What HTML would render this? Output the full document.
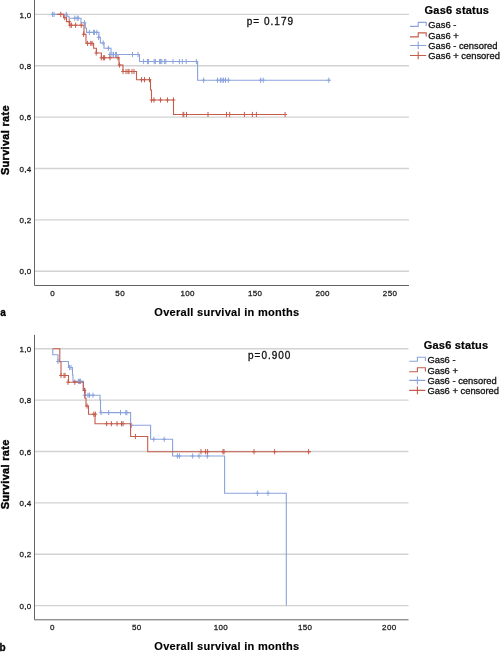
<!DOCTYPE html>
<html><head><meta charset="utf-8"><title>Kaplan-Meier survival curves</title>
<style>
html,body{margin:0;padding:0;background:#fff;}
body{width:500px;height:654px;overflow:hidden;}
svg{display:block;will-change:transform;}
text{font-family:"Liberation Sans",sans-serif;}
.tl{font-size:8px;letter-spacing:0.35px;fill:#1a1a1a;stroke:#1a1a1a;stroke-width:0.28px;}
.pv{font-size:10px;fill:#111;stroke:#111;stroke-width:0.3px;letter-spacing:1px;}
.at{font-size:11px;letter-spacing:0.29px;font-weight:bold;fill:#000;stroke:#000;stroke-width:0.15px;}
.lt{font-size:10px;font-weight:bold;fill:#000;stroke:#000;stroke-width:0.3px;}
.lg{font-size:11px;letter-spacing:0.2px;font-weight:bold;fill:#000;stroke:#000;stroke-width:0.2px;}
.li{font-size:9.4px;fill:#111;stroke:#111;stroke-width:0.3px;}
</style></head>
<body>
<svg width="500" height="654" viewBox="0 0 500 654">
<rect width="500" height="654" fill="#fff"/>
<line x1="34.5" x2="409" y1="14.40" y2="14.40" stroke="#d2d2d2" stroke-width="1.4"/>
<line x1="34.5" x2="409" y1="65.78" y2="65.78" stroke="#d2d2d2" stroke-width="1.4"/>
<line x1="34.5" x2="409" y1="117.16" y2="117.16" stroke="#d2d2d2" stroke-width="1.4"/>
<line x1="34.5" x2="409" y1="168.54" y2="168.54" stroke="#d2d2d2" stroke-width="1.4"/>
<line x1="34.5" x2="409" y1="219.92" y2="219.92" stroke="#d2d2d2" stroke-width="1.4"/>
<line x1="34.5" x2="409" y1="271.30" y2="271.30" stroke="#d2d2d2" stroke-width="1.4"/>
<text x="31.6" y="17.50" text-anchor="end" class="tl">1,0</text>
<text x="31.6" y="68.88" text-anchor="end" class="tl">0,8</text>
<text x="31.6" y="120.26" text-anchor="end" class="tl">0,6</text>
<text x="31.6" y="171.64" text-anchor="end" class="tl">0,4</text>
<text x="31.6" y="223.02" text-anchor="end" class="tl">0,2</text>
<text x="31.6" y="274.40" text-anchor="end" class="tl">0,0</text>
<text x="52.70" y="295.80" text-anchor="middle" class="tl">0</text>
<text x="120.17" y="295.80" text-anchor="middle" class="tl">50</text>
<text x="187.64" y="295.80" text-anchor="middle" class="tl">100</text>
<text x="255.11" y="295.80" text-anchor="middle" class="tl">150</text>
<text x="322.58" y="295.80" text-anchor="middle" class="tl">200</text>
<text x="390.05" y="295.80" text-anchor="middle" class="tl">250</text>
<path d="M51,14.4H67V16.3H69V18.2H81V22.8H85.3V28H86.5V32.4H99V37.4H100.4V43H104V48.2H111V54.5H139.5V61.5H197.6V80.2H330.5" stroke="#8aa3dc" stroke-width="1.1" fill="none"/>
<path d="M52.5,11.80V17.00M50.7,14.4H54.3M54,11.80V17.00M52.2,14.4H55.8M66.4,11.80V17.00M64.60000000000001,14.4H68.2" stroke="#8aa3dc" stroke-width="1.0" fill="none"/>
<path d="M74.8,15.60V20.80M73.0,18.2H76.6M77.2,15.60V20.80M75.4,18.2H79.0M78.2,15.60V20.80M76.4,18.2H80.0" stroke="#8aa3dc" stroke-width="1.0" fill="none"/>
<path d="M84.5,20.20V25.40M82.7,22.8H86.3" stroke="#8aa3dc" stroke-width="1.0" fill="none"/>
<path d="M89.4,29.80V35.00M87.60000000000001,32.4H91.2M93.6,29.80V35.00M91.8,32.4H95.39999999999999M94.4,29.80V35.00M92.60000000000001,32.4H96.2M96.8,29.80V35.00M95.0,32.4H98.6" stroke="#8aa3dc" stroke-width="1.0" fill="none"/>
<path d="M98.6,34.80V40.00M96.8,37.4H100.39999999999999" stroke="#8aa3dc" stroke-width="1.0" fill="none"/>
<path d="M103.2,40.40V45.60M101.4,43.0H105.0" stroke="#8aa3dc" stroke-width="1.0" fill="none"/>
<path d="M108.4,45.60V50.80M106.60000000000001,48.2H110.2" stroke="#8aa3dc" stroke-width="1.0" fill="none"/>
<path d="M109.8,51.90V57.10M108.0,54.5H111.6M112,51.90V57.10M110.2,54.5H113.8M113.5,51.90V57.10M111.7,54.5H115.3M115.5,51.90V57.10M113.7,54.5H117.3M116.4,51.90V57.10M114.60000000000001,54.5H118.2M132.5,51.90V57.10M130.7,54.5H134.3M138,51.90V57.10M136.2,54.5H139.8" stroke="#8aa3dc" stroke-width="1.0" fill="none"/>
<path d="M143.6,58.90V64.10M141.79999999999998,61.5H145.4M147.4,58.90V64.10M145.6,61.5H149.20000000000002M148.4,58.90V64.10M146.6,61.5H150.20000000000002M154.2,58.90V64.10M152.39999999999998,61.5H156.0M155.4,58.90V64.10M153.6,61.5H157.20000000000002M159.6,58.90V64.10M157.79999999999998,61.5H161.4M160.6,58.90V64.10M158.79999999999998,61.5H162.4M161.8,58.90V64.10M160.0,61.5H163.60000000000002M164.6,58.90V64.10M162.79999999999998,61.5H166.4M165.8,58.90V64.10M164.0,61.5H167.60000000000002M173,58.90V64.10M171.2,61.5H174.8M179.4,58.90V64.10M177.6,61.5H181.20000000000002M182.3,58.90V64.10M180.5,61.5H184.10000000000002M186.2,58.90V64.10M184.39999999999998,61.5H188.0M196.4,58.90V64.10M194.6,61.5H198.20000000000002" stroke="#8aa3dc" stroke-width="1.0" fill="none"/>
<path d="M203.6,77.60V82.80M201.79999999999998,80.2H205.4M217.5,77.60V82.80M215.7,80.2H219.3M220.4,77.60V82.80M218.6,80.2H222.20000000000002M222,77.60V82.80M220.2,80.2H223.8M223.6,77.60V82.80M221.79999999999998,80.2H225.4M225.5,77.60V82.80M223.7,80.2H227.3M228.4,77.60V82.80M226.6,80.2H230.20000000000002M260.6,77.60V82.80M258.8,80.2H262.40000000000003M263.2,77.60V82.80M261.4,80.2H265.0M328.8,77.60V82.80M327.0,80.2H330.6" stroke="#8aa3dc" stroke-width="1.0" fill="none"/>
<path d="M57,14.4H63.6V17.6H66.5V21.6H69.5V25.2H84V34.2H86V43.4H93.6V48.2H96.4V53H101.4V57.8H119V65H123V71.5H136.5V79.7H150.5V90H151.5V100H173.5V114.5H287" stroke="#c55c4c" stroke-width="1.1" fill="none"/>
<path d="M60.8,11.80V17.00M59.0,14.4H62.599999999999994" stroke="#c55c4c" stroke-width="1.0" fill="none"/>
<path d="M64.8,15.00V20.20M63.0,17.6H66.6" stroke="#c55c4c" stroke-width="1.0" fill="none"/>
<path d="M69.2,19.00V24.20M67.4,21.6H71.0" stroke="#c55c4c" stroke-width="1.0" fill="none"/>
<path d="M70.0,22.60V27.80M68.2,25.2H71.8M71.4,22.60V27.80M69.60000000000001,25.2H73.2M75.6,22.60V27.80M73.8,25.2H77.39999999999999M81.2,22.60V27.80M79.4,25.2H83.0" stroke="#c55c4c" stroke-width="1.0" fill="none"/>
<path d="M83.6,31.60V36.80M81.8,34.2H85.39999999999999" stroke="#c55c4c" stroke-width="1.0" fill="none"/>
<path d="M87.6,40.80V46.00M85.8,43.4H89.39999999999999M90.8,40.80V46.00M89.0,43.4H92.6M92,40.80V46.00M90.2,43.4H93.8" stroke="#c55c4c" stroke-width="1.0" fill="none"/>
<path d="M96.2,50.40V55.60M94.4,53.0H98.0" stroke="#c55c4c" stroke-width="1.0" fill="none"/>
<path d="M101.3,55.20V60.40M99.5,57.8H103.1M103.4,55.20V60.40M101.60000000000001,57.8H105.2M104.6,55.20V60.40M102.8,57.8H106.39999999999999M110,55.20V60.40M108.2,57.8H111.8M118,55.20V60.40M116.2,57.8H119.8" stroke="#c55c4c" stroke-width="1.0" fill="none"/>
<path d="M119.5,62.40V67.60M117.7,65.0H121.3" stroke="#c55c4c" stroke-width="1.0" fill="none"/>
<path d="M123,68.90V74.10M121.2,71.5H124.8M126,68.90V74.10M124.2,71.5H127.8M128,68.90V74.10M126.2,71.5H129.8M129,68.90V74.10M127.2,71.5H130.8M132,68.90V74.10M130.2,71.5H133.8M134,68.90V74.10M132.2,71.5H135.8" stroke="#c55c4c" stroke-width="1.0" fill="none"/>
<path d="M141.5,77.10V82.30M139.7,79.7H143.3M144.5,77.10V82.30M142.7,79.7H146.3M149.5,77.10V82.30M147.7,79.7H151.3" stroke="#c55c4c" stroke-width="1.0" fill="none"/>
<path d="M151.5,97.40V102.60M149.7,100.0H153.3M154,97.40V102.60M152.2,100.0H155.8M160.5,97.40V102.60M158.7,100.0H162.3M167.5,97.40V102.60M165.7,100.0H169.3M173.5,97.40V102.60M171.7,100.0H175.3" stroke="#c55c4c" stroke-width="1.0" fill="none"/>
<path d="M183,111.90V117.10M181.2,114.5H184.8M183.8,111.90V117.10M182.0,114.5H185.60000000000002M186.5,111.90V117.10M184.7,114.5H188.3M208,111.90V117.10M206.2,114.5H209.8M226.5,111.90V117.10M224.7,114.5H228.3M229.7,111.90V117.10M227.89999999999998,114.5H231.5M244.4,111.90V117.10M242.6,114.5H246.20000000000002M252.4,111.90V117.10M250.6,114.5H254.20000000000002M256.4,111.90V117.10M254.59999999999997,114.5H258.2M285.1,111.90V117.10M283.3,114.5H286.90000000000003" stroke="#c55c4c" stroke-width="1.0" fill="none"/>
<path d="M34.5,0V285.50H409" stroke="#646464" stroke-width="1" fill="none"/>
<text x="246.8" y="24.80" class="pv">p= 0.179</text>
<text x="154.3" y="315.60" class="at">Overall survival in months</text>
<text transform="translate(9.0,140.10) rotate(-90)" text-anchor="middle" class="at" style="stroke:#000;stroke-width:0.4px;font-size:11px;letter-spacing:0.3px">Survival rate</text>
<text x="0.3" y="316.00" class="lt">a</text>
<text x="424.60" y="13.90" class="lg">Gas6 status</text>
<path d="M410.00,26.40H418.20V22.40H426.20V26.00" stroke="#8aa3dc" stroke-width="1.1" fill="none"/>
<text x="428.20" y="28.30" class="li">Gas6 -</text>
<path d="M410.00,36.90H418.20V32.90H426.20V36.50" stroke="#c55c4c" stroke-width="1.1" fill="none"/>
<text x="428.20" y="38.80" class="li">Gas6 +</text>
<path d="M410.00,45.50H426.20M418.20,41.50V49.30" stroke="#8aa3dc" stroke-width="1.1" fill="none"/>
<text x="428.20" y="48.80" class="li">Gas6 - censored</text>
<path d="M410.00,55.50H426.20M418.20,51.50V59.30" stroke="#c55c4c" stroke-width="1.1" fill="none"/>
<text x="428.20" y="58.80" class="li">Gas6 + censored</text>
<line x1="34.5" x2="408.5" y1="348.70" y2="348.70" stroke="#d2d2d2" stroke-width="1.4"/>
<line x1="34.5" x2="408.5" y1="400.08" y2="400.08" stroke="#d2d2d2" stroke-width="1.4"/>
<line x1="34.5" x2="408.5" y1="451.46" y2="451.46" stroke="#d2d2d2" stroke-width="1.4"/>
<line x1="34.5" x2="408.5" y1="502.84" y2="502.84" stroke="#d2d2d2" stroke-width="1.4"/>
<line x1="34.5" x2="408.5" y1="554.22" y2="554.22" stroke="#d2d2d2" stroke-width="1.4"/>
<line x1="34.5" x2="408.5" y1="605.60" y2="605.60" stroke="#d2d2d2" stroke-width="1.4"/>
<text x="31.6" y="351.80" text-anchor="end" class="tl">1,0</text>
<text x="31.6" y="403.18" text-anchor="end" class="tl">0,8</text>
<text x="31.6" y="454.56" text-anchor="end" class="tl">0,6</text>
<text x="31.6" y="505.94" text-anchor="end" class="tl">0,4</text>
<text x="31.6" y="557.32" text-anchor="end" class="tl">0,2</text>
<text x="31.6" y="608.70" text-anchor="end" class="tl">0,0</text>
<text x="52.50" y="630.10" text-anchor="middle" class="tl">0</text>
<text x="136.70" y="630.10" text-anchor="middle" class="tl">50</text>
<text x="220.90" y="630.10" text-anchor="middle" class="tl">100</text>
<text x="305.10" y="630.10" text-anchor="middle" class="tl">150</text>
<text x="389.30" y="630.10" text-anchor="middle" class="tl">200</text>
<path d="M52.8,348.7V354.8H58V361.5H68.5V367.5H72.5V375H73V381.4H83.5V388.6H85V395.2H100V400H100.5V412.6H130.6V425.3H150.6V439.3H172.6V456H224.6V493.2H286.3V605.5" stroke="#8aa3dc" stroke-width="1.1" fill="none"/>
<path d="M58,358.90V364.10M56.2,361.5H59.8" stroke="#8aa3dc" stroke-width="1.0" fill="none"/>
<path d="M69.5,364.90V370.10M67.7,367.5H71.3M71,364.90V370.10M69.2,367.5H72.8" stroke="#8aa3dc" stroke-width="1.0" fill="none"/>
<path d="M78.4,378.80V384.00M76.60000000000001,381.4H80.2M79.5,378.80V384.00M77.7,381.4H81.3M80.5,378.80V384.00M78.7,381.4H82.3" stroke="#8aa3dc" stroke-width="1.0" fill="none"/>
<path d="M84.5,392.60V397.80M82.7,395.2H86.3M88,392.60V397.80M86.2,395.2H89.8M89.5,392.60V397.80M87.7,395.2H91.3M93,392.60V397.80M91.2,395.2H94.8" stroke="#8aa3dc" stroke-width="1.0" fill="none"/>
<path d="M101,410.00V415.20M99.2,412.6H102.8M108.7,410.00V415.20M106.9,412.6H110.5M120.5,410.00V415.20M118.7,412.6H122.3M125.8,410.00V415.20M124.0,412.6H127.6M126.9,410.00V415.20M125.10000000000001,412.6H128.70000000000002" stroke="#8aa3dc" stroke-width="1.0" fill="none"/>
<path d="M131.4,422.70V427.90M129.6,425.3H133.20000000000002" stroke="#8aa3dc" stroke-width="1.0" fill="none"/>
<path d="M153.8,436.70V441.90M152.0,439.3H155.60000000000002M164.2,436.70V441.90M162.39999999999998,439.3H166.0" stroke="#8aa3dc" stroke-width="1.0" fill="none"/>
<path d="M177.4,453.40V458.60M175.6,456.0H179.20000000000002M179.4,453.40V458.60M177.6,456.0H181.20000000000002M192.6,453.40V458.60M190.79999999999998,456.0H194.4M199,453.40V458.60M197.2,456.0H200.8M207.4,453.40V458.60M205.6,456.0H209.20000000000002" stroke="#8aa3dc" stroke-width="1.0" fill="none"/>
<path d="M257.4,490.60V495.80M255.59999999999997,493.2H259.2M268,490.60V495.80M266.2,493.2H269.8" stroke="#8aa3dc" stroke-width="1.0" fill="none"/>
<path d="M52.8,348.7H59.8V361.8H61V375.5H68.5V382.2H83.2V390.4H85V398.2H86V406H88.5V414.2H95V423.7H130.6V436.5H147.7V451.7H311" stroke="#c55c4c" stroke-width="1.1" fill="none"/>
<path d="M61,372.90V378.10M59.2,375.5H62.8M64,372.90V378.10M62.2,375.5H65.8M65,372.90V378.10M63.2,375.5H66.8" stroke="#c55c4c" stroke-width="1.0" fill="none"/>
<path d="M68,379.60V384.80M66.2,382.2H69.8M74.8,379.60V384.80M73.0,382.2H76.6" stroke="#c55c4c" stroke-width="1.0" fill="none"/>
<path d="M84.5,387.80V393.00M82.7,390.4H86.3" stroke="#c55c4c" stroke-width="1.0" fill="none"/>
<path d="M87,403.40V408.60M85.2,406.0H88.8" stroke="#c55c4c" stroke-width="1.0" fill="none"/>
<path d="M93.8,411.60V416.80M92.0,414.2H95.6M95.4,411.60V416.80M93.60000000000001,414.2H97.2" stroke="#c55c4c" stroke-width="1.0" fill="none"/>
<path d="M106.6,421.10V426.30M104.8,423.7H108.39999999999999M111.4,421.10V426.30M109.60000000000001,423.7H113.2M117,421.10V426.30M115.2,423.7H118.8M121.5,421.10V426.30M119.7,423.7H123.3M123,421.10V426.30M121.2,423.7H124.8" stroke="#c55c4c" stroke-width="1.0" fill="none"/>
<path d="M135.4,433.90V439.10M133.6,436.5H137.20000000000002" stroke="#c55c4c" stroke-width="1.0" fill="none"/>
<path d="M201,449.10V454.30M199.2,451.7H202.8M205.6,449.10V454.30M203.79999999999998,451.7H207.4M207.6,449.10V454.30M205.79999999999998,451.7H209.4M223,449.10V454.30M221.2,451.7H224.8M224,449.10V454.30M222.2,451.7H225.8M254,449.10V454.30M252.2,451.7H255.8M274.6,449.10V454.30M272.8,451.7H276.40000000000003M308.6,449.10V454.30M306.8,451.7H310.40000000000003" stroke="#c55c4c" stroke-width="1.0" fill="none"/>
<path d="M34.5,334.8V619.80H408.5" stroke="#646464" stroke-width="1" fill="none"/>
<text x="248" y="359.10" class="pv">p=0.900</text>
<text x="154.3" y="649.90" class="at">Overall survival in months</text>
<text transform="translate(9.0,474.40) rotate(-90)" text-anchor="middle" class="at" style="stroke:#000;stroke-width:0.4px;font-size:11px;letter-spacing:0.3px">Survival rate</text>
<text x="-0.4" y="650.90" class="lt">b</text>
<text x="423.80" y="348.80" class="lg">Gas6 status</text>
<path d="M409.20,361.30H417.40V357.30H425.40V360.90" stroke="#8aa3dc" stroke-width="1.1" fill="none"/>
<text x="427.40" y="363.20" class="li">Gas6 -</text>
<path d="M409.20,371.80H417.40V367.80H425.40V371.40" stroke="#c55c4c" stroke-width="1.1" fill="none"/>
<text x="427.40" y="373.70" class="li">Gas6 +</text>
<path d="M409.20,380.40H425.40M417.40,376.40V384.20" stroke="#8aa3dc" stroke-width="1.1" fill="none"/>
<text x="427.40" y="383.70" class="li">Gas6 - censored</text>
<path d="M409.20,390.40H425.40M417.40,386.40V394.20" stroke="#c55c4c" stroke-width="1.1" fill="none"/>
<text x="427.40" y="393.70" class="li">Gas6 + censored</text>
</svg>
</body></html>
